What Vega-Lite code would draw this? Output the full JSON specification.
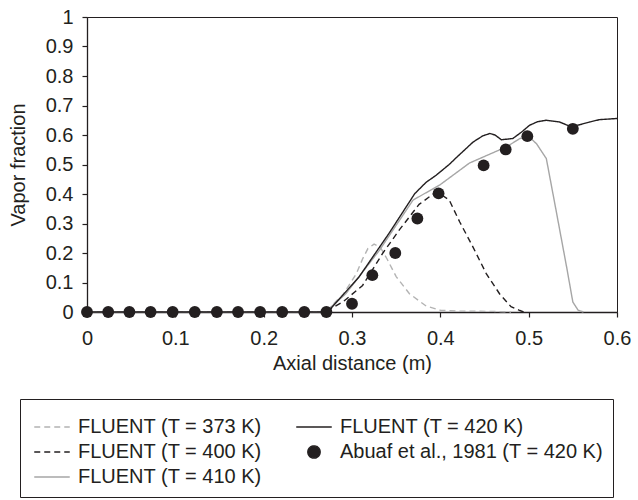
{
  "$schema": "https://vega.github.io/schema/vega-lite/v6.json",
  "width": 530,
  "height": 295,
  "autosize": "none",
  "padding": {"left": 87, "top": 17, "right": 21, "bottom": 188},
  "background": "white",
  "config": {
    "font": "Liberation Sans",
    "view": {"stroke": "#231f20", "strokeWidth": 1},
    "axis": {
      "grid": false,
      "domainColor": "#231f20",
      "tickColor": "#231f20",
      "labelColor": "#231f20",
      "titleColor": "#231f20",
      "labelFontSize": 20,
      "titleFontSize": 20,
      "titleFontWeight": "normal",
      "tickSize": 5,
      "domainWidth": 1.3,
      "tickWidth": 1.2,
      "labelOverlap": false,
      "labelFlush": false,
      "format": "~g"
    },
    "legend": {
      "labelFontSize": 20,
      "labelColor": "#231f20",
      "labelLimit": 400,
      "symbolSize": 150,
      "symbolStrokeWidth": 1.5,
      "strokeColor": "#231f20",
      "padding": 10,
      "titleFontSize": 2,
      "titlePadding": 6
    }
  },
  "datasets": {
    "lines": [
      {"x": 0, "y": 0, "series": "FLUENT (T = 373 K)"},
      {"x": 0.27, "y": 0, "series": "FLUENT (T = 373 K)"},
      {"x": 0.29, "y": 0.06, "series": "FLUENT (T = 373 K)"},
      {"x": 0.305, "y": 0.13, "series": "FLUENT (T = 373 K)"},
      {"x": 0.312, "y": 0.18, "series": "FLUENT (T = 373 K)"},
      {"x": 0.318, "y": 0.215, "series": "FLUENT (T = 373 K)"},
      {"x": 0.325, "y": 0.23, "series": "FLUENT (T = 373 K)"},
      {"x": 0.332, "y": 0.22, "series": "FLUENT (T = 373 K)"},
      {"x": 0.34, "y": 0.178, "series": "FLUENT (T = 373 K)"},
      {"x": 0.35, "y": 0.12, "series": "FLUENT (T = 373 K)"},
      {"x": 0.365, "y": 0.062, "series": "FLUENT (T = 373 K)"},
      {"x": 0.384, "y": 0.02, "series": "FLUENT (T = 373 K)"},
      {"x": 0.4, "y": 0.006, "series": "FLUENT (T = 373 K)"},
      {"x": 0.42, "y": 0.003, "series": "FLUENT (T = 373 K)"},
      {"x": 0.46, "y": 0.002, "series": "FLUENT (T = 373 K)"},
      {"x": 0.48, "y": 0, "series": "FLUENT (T = 373 K)"},

      {"x": 0, "y": 0, "series": "FLUENT (T = 400 K)"},
      {"x": 0.27, "y": 0, "series": "FLUENT (T = 400 K)"},
      {"x": 0.29, "y": 0.035, "series": "FLUENT (T = 400 K)"},
      {"x": 0.312, "y": 0.09, "series": "FLUENT (T = 400 K)"},
      {"x": 0.335, "y": 0.2, "series": "FLUENT (T = 400 K)"},
      {"x": 0.354, "y": 0.28, "series": "FLUENT (T = 400 K)"},
      {"x": 0.376, "y": 0.365, "series": "FLUENT (T = 400 K)"},
      {"x": 0.392, "y": 0.4, "series": "FLUENT (T = 400 K)"},
      {"x": 0.4, "y": 0.4, "series": "FLUENT (T = 400 K)"},
      {"x": 0.41, "y": 0.38, "series": "FLUENT (T = 400 K)"},
      {"x": 0.422, "y": 0.305, "series": "FLUENT (T = 400 K)"},
      {"x": 0.437, "y": 0.22, "series": "FLUENT (T = 400 K)"},
      {"x": 0.452, "y": 0.13, "series": "FLUENT (T = 400 K)"},
      {"x": 0.467, "y": 0.062, "series": "FLUENT (T = 400 K)"},
      {"x": 0.48, "y": 0.018, "series": "FLUENT (T = 400 K)"},
      {"x": 0.49, "y": 0.005, "series": "FLUENT (T = 400 K)"},
      {"x": 0.495, "y": 0, "series": "FLUENT (T = 400 K)"},

      {"x": 0, "y": 0, "series": "FLUENT (T = 410 K)"},
      {"x": 0.27, "y": 0, "series": "FLUENT (T = 410 K)"},
      {"x": 0.293, "y": 0.062, "series": "FLUENT (T = 410 K)"},
      {"x": 0.331, "y": 0.209, "series": "FLUENT (T = 410 K)"},
      {"x": 0.369, "y": 0.379, "series": "FLUENT (T = 410 K)"},
      {"x": 0.4, "y": 0.432, "series": "FLUENT (T = 410 K)"},
      {"x": 0.433, "y": 0.505, "series": "FLUENT (T = 410 K)"},
      {"x": 0.475, "y": 0.56, "series": "FLUENT (T = 410 K)"},
      {"x": 0.49, "y": 0.588, "series": "FLUENT (T = 410 K)"},
      {"x": 0.5, "y": 0.595, "series": "FLUENT (T = 410 K)"},
      {"x": 0.509, "y": 0.57, "series": "FLUENT (T = 410 K)"},
      {"x": 0.52, "y": 0.52, "series": "FLUENT (T = 410 K)"},
      {"x": 0.531, "y": 0.345, "series": "FLUENT (T = 410 K)"},
      {"x": 0.543, "y": 0.152, "series": "FLUENT (T = 410 K)"},
      {"x": 0.55, "y": 0.034, "series": "FLUENT (T = 410 K)"},
      {"x": 0.556, "y": 0.006, "series": "FLUENT (T = 410 K)"},
      {"x": 0.562, "y": 0, "series": "FLUENT (T = 410 K)"},

      {"x": 0, "y": 0, "series": "FLUENT (T = 420 K)"},
      {"x": 0.27, "y": 0, "series": "FLUENT (T = 420 K)"},
      {"x": 0.274, "y": 0.005, "series": "FLUENT (T = 420 K)"},
      {"x": 0.308, "y": 0.119, "series": "FLUENT (T = 420 K)"},
      {"x": 0.342, "y": 0.267, "series": "FLUENT (T = 420 K)"},
      {"x": 0.371, "y": 0.401, "series": "FLUENT (T = 420 K)"},
      {"x": 0.384, "y": 0.44, "series": "FLUENT (T = 420 K)"},
      {"x": 0.395, "y": 0.463, "series": "FLUENT (T = 420 K)"},
      {"x": 0.41, "y": 0.5, "series": "FLUENT (T = 420 K)"},
      {"x": 0.418, "y": 0.523, "series": "FLUENT (T = 420 K)"},
      {"x": 0.437, "y": 0.576, "series": "FLUENT (T = 420 K)"},
      {"x": 0.448, "y": 0.597, "series": "FLUENT (T = 420 K)"},
      {"x": 0.456, "y": 0.605, "series": "FLUENT (T = 420 K)"},
      {"x": 0.462, "y": 0.6, "series": "FLUENT (T = 420 K)"},
      {"x": 0.469, "y": 0.584, "series": "FLUENT (T = 420 K)"},
      {"x": 0.482, "y": 0.588, "series": "FLUENT (T = 420 K)"},
      {"x": 0.492, "y": 0.61, "series": "FLUENT (T = 420 K)"},
      {"x": 0.501, "y": 0.633, "series": "FLUENT (T = 420 K)"},
      {"x": 0.51, "y": 0.645, "series": "FLUENT (T = 420 K)"},
      {"x": 0.52, "y": 0.65, "series": "FLUENT (T = 420 K)"},
      {"x": 0.535, "y": 0.644, "series": "FLUENT (T = 420 K)"},
      {"x": 0.548, "y": 0.628, "series": "FLUENT (T = 420 K)"},
      {"x": 0.558, "y": 0.635, "series": "FLUENT (T = 420 K)"},
      {"x": 0.569, "y": 0.644, "series": "FLUENT (T = 420 K)"},
      {"x": 0.58, "y": 0.652, "series": "FLUENT (T = 420 K)"},
      {"x": 0.6, "y": 0.656, "series": "FLUENT (T = 420 K)"}
    ],
    "points": [
      {"x": 0, "y": 0, "series": "Abuaf et al., 1981 (T = 420 K)"},
      {"x": 0.024, "y": 0, "series": "Abuaf et al., 1981 (T = 420 K)"},
      {"x": 0.048, "y": 0, "series": "Abuaf et al., 1981 (T = 420 K)"},
      {"x": 0.072, "y": 0, "series": "Abuaf et al., 1981 (T = 420 K)"},
      {"x": 0.097, "y": 0, "series": "Abuaf et al., 1981 (T = 420 K)"},
      {"x": 0.122, "y": 0, "series": "Abuaf et al., 1981 (T = 420 K)"},
      {"x": 0.147, "y": 0, "series": "Abuaf et al., 1981 (T = 420 K)"},
      {"x": 0.171, "y": 0, "series": "Abuaf et al., 1981 (T = 420 K)"},
      {"x": 0.196, "y": 0, "series": "Abuaf et al., 1981 (T = 420 K)"},
      {"x": 0.221, "y": 0, "series": "Abuaf et al., 1981 (T = 420 K)"},
      {"x": 0.246, "y": 0, "series": "Abuaf et al., 1981 (T = 420 K)"},
      {"x": 0.271, "y": 0, "series": "Abuaf et al., 1981 (T = 420 K)"},
      {"x": 0.3, "y": 0.028, "series": "Abuaf et al., 1981 (T = 420 K)"},
      {"x": 0.323, "y": 0.125, "series": "Abuaf et al., 1981 (T = 420 K)"},
      {"x": 0.349, "y": 0.2, "series": "Abuaf et al., 1981 (T = 420 K)"},
      {"x": 0.374, "y": 0.317, "series": "Abuaf et al., 1981 (T = 420 K)"},
      {"x": 0.398, "y": 0.402, "series": "Abuaf et al., 1981 (T = 420 K)"},
      {"x": 0.449, "y": 0.497, "series": "Abuaf et al., 1981 (T = 420 K)"},
      {"x": 0.474, "y": 0.551, "series": "Abuaf et al., 1981 (T = 420 K)"},
      {"x": 0.4985, "y": 0.596, "series": "Abuaf et al., 1981 (T = 420 K)"},
      {"x": 0.55, "y": 0.621, "series": "Abuaf et al., 1981 (T = 420 K)"}
    ]
  },
  "encoding": {
    "x": {"field": "x", "type": "quantitative", "scale": {"domain": [0, 0.6], "nice": false, "zero": false},
          "axis": {"values": [0, 0.1, 0.2, 0.3, 0.4, 0.5, 0.6], "title": "Axial distance (m)", "labelPadding": 11, "titlePadding": 5}},
    "y": {"field": "y", "type": "quantitative", "scale": {"domain": [0, 1], "nice": false, "zero": false},
          "axis": {"values": [0, 0.1, 0.2, 0.3, 0.4, 0.5, 0.6, 0.7, 0.8, 0.9, 1], "title": "Vapor fraction", "labelPadding": 9, "titlePadding": 17}},
    "color": {
      "field": "series", "type": "nominal",
      "scale": {
        "domain": ["FLUENT (T = 373 K)", "FLUENT (T = 400 K)", "FLUENT (T = 410 K)", "FLUENT (T = 420 K)", "Abuaf et al., 1981 (T = 420 K)"],
        "range": ["#b3b3b3", "#231f20", "#a6a6a6", "#231f20", "#231f20"]
      },
      "legend": {"title": " ", "orient": "none", "legendX": -67, "legendY": 382, "columns": 2, "columnPadding": 30, "rowPadding": 5, "labelOffset": 16, "symbolOffset": 12}
    }
  },
  "layer": [
    {
      "data": {"name": "lines"},
      "mark": {"type": "line", "strokeWidth": 1.4},
      "encoding": {
        "strokeDash": {
          "field": "series", "type": "nominal",
          "scale": {
            "domain": ["FLUENT (T = 373 K)", "FLUENT (T = 400 K)", "FLUENT (T = 410 K)", "FLUENT (T = 420 K)", "Abuaf et al., 1981 (T = 420 K)"],
            "range": [[6, 4], [6, 4], [1, 0], [1, 0], [1, 0]]
          },
          "legend": {"title": " ", "orient": "none", "legendX": -67, "legendY": 382, "columns": 2, "columnPadding": 30, "rowPadding": 5, "labelOffset": 16, "symbolOffset": 12}
        }
      }
    },
    {
      "data": {"name": "points"},
      "mark": {"type": "point", "filled": true, "size": 140, "opacity": 1},
      "encoding": {
        "shape": {
          "field": "series", "type": "nominal",
          "scale": {
            "domain": ["FLUENT (T = 373 K)", "FLUENT (T = 400 K)", "FLUENT (T = 410 K)", "FLUENT (T = 420 K)", "Abuaf et al., 1981 (T = 420 K)"],
            "range": ["M-2.9,0H2.9", "M-2.9,0H2.9", "M-2.9,0H2.9", "M-2.9,0H2.9", "circle"]
          },
          "legend": {"title": " ", "orient": "none", "legendX": -67, "legendY": 382, "columns": 2, "columnPadding": 30, "rowPadding": 5, "labelOffset": 16, "symbolOffset": 12}
        }
      }
    }
  ]
}
